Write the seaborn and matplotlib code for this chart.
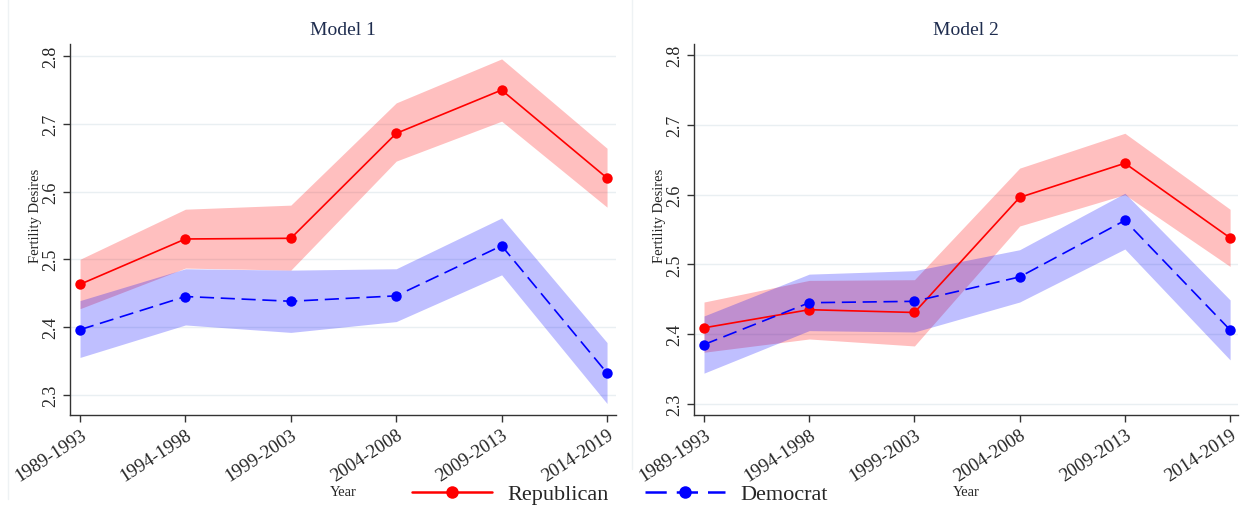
import matplotlib
matplotlib.use("Agg")
import matplotlib.pyplot as plt
from matplotlib.lines import Line2D
import numpy as np
import pandas as pd
import seaborn as sns

# Survey periods
periods = ["1989-1993", "1994-1998", "1999-2003", "2004-2008", "2009-2013", "2014-2019"]

# Model 1: predicted fertility desires with 95% CI
rep1 = [2.463, 2.530, 2.531, 2.686, 2.750, 2.620]
rep1_lo = [2.427, 2.487, 2.484, 2.645, 2.704, 2.577]
rep1_hi = [2.500, 2.574, 2.580, 2.731, 2.796, 2.664]
dem1 = [2.396, 2.445, 2.438, 2.446, 2.520, 2.332]
dem1_lo = [2.355, 2.403, 2.392, 2.408, 2.477, 2.287]
dem1_hi = [2.439, 2.486, 2.484, 2.486, 2.561, 2.377]

# Model 2: predicted fertility desires with 95% CI
rep2 = [2.409, 2.435, 2.431, 2.596, 2.645, 2.538]
rep2_lo = [2.374, 2.393, 2.383, 2.555, 2.600, 2.497]
rep2_hi = [2.446, 2.477, 2.478, 2.638, 2.688, 2.579]
dem2 = [2.385, 2.445, 2.447, 2.482, 2.563, 2.406]
dem2_lo = [2.344, 2.405, 2.403, 2.446, 2.522, 2.363]
dem2_hi = [2.426, 2.486, 2.491, 2.521, 2.602, 2.449]

yticks = [2.3, 2.4, 2.5, 2.6, 2.7, 2.8]

sns.set_theme(style="white")
plt.rcParams["font.family"] = ["Liberation Serif", "DejaVu Serif"]

RED = "#ff0000"
BLUE = "#0000ff"
palette = {"Republican": RED, "Democrat": BLUE}
markers = {"Republican": "o", "Democrat": "o"}
dashes = {"Republican": "", "Democrat": (8.5, 4)}

fig = plt.figure(figsize=(12.43, 5.10), dpi=100)
W, H = 1243, 510


def px_axes(x0, x1, y0, y1):
    return fig.add_axes([x0 / W, 1 - y1 / H, (x1 - x0) / W, (y1 - y0) / H])


# faint outlines of the two sub-graphs
fig.add_artist(Line2D([8 / W, 8 / W], [1 - 500 / H, 1], color="#eef2f4", lw=1))
fig.add_artist(Line2D([632 / W, 632 / W], [1 - 470 / H, 1], color="#eef2f4", lw=1))

panels = [
    dict(title="Model 1", box=(70, 616, 45, 416), ylim=(2.270, 2.818),
         rep=rep1, rep_lo=rep1_lo, rep_hi=rep1_hi,
         dem=dem1, dem_lo=dem1_lo, dem_hi=dem1_hi, xr=5.085),
    dict(title="Model 2", box=(694, 1238, 45, 416), ylim=(2.284, 2.816),
         rep=rep2, rep_lo=rep2_lo, rep_hi=rep2_hi,
         dem=dem2, dem_lo=dem2_lo, dem_hi=dem2_hi, xr=5.075),
]

handles = labels = None
for p in panels:
    ax = px_axes(*p["box"])
    xpos = np.arange(len(periods))
    ax.fill_between(xpos, p["rep_lo"], p["rep_hi"], color=RED, alpha=0.25, lw=0, zorder=1)
    ax.fill_between(xpos, p["dem_lo"], p["dem_hi"], color=BLUE, alpha=0.25, lw=0, zorder=1)

    df = pd.concat([
        pd.DataFrame({"period": periods, "value": p["rep"], "party": "Republican"}),
        pd.DataFrame({"period": periods, "value": p["dem"], "party": "Democrat"}),
    ], ignore_index=True)
    sns.lineplot(data=df, x="period", y="value", hue="party", style="party",
                 palette=palette, markers=markers, dashes=dashes,
                 hue_order=["Republican", "Democrat"], style_order=["Republican", "Democrat"],
                 linewidth=1.2, markersize=7.5, markeredgewidth=0, sort=False, ax=ax, zorder=3)
    handles, labels = ax.get_legend_handles_labels()
    ax.get_legend().remove()

    ax.set_xlim(-0.095, p["xr"])
    ax.set_ylim(*p["ylim"])
    ax.set_yticks(yticks)
    ax.set_yticklabels([f"{v:.1f}" for v in yticks], rotation=90, va="center", fontsize=13)
    ax.set_xticks(xpos)
    ax.set_xticklabels(periods, rotation=33, ha="right", rotation_mode="anchor", fontsize=13.5)
    ax.grid(axis="y", color="#e9eff2", lw=1)
    ax.grid(axis="x", visible=False)
    for s in ["top", "right"]:
        ax.spines[s].set_visible(False)
    for s in ["left", "bottom"]:
        ax.spines[s].set_color("#333333")
        ax.spines[s].set_linewidth(1.0)
    ax.tick_params(axis="both", which="both", direction="out", length=5, width=1,
                   color="#333333", left=True, bottom=True, pad=3)
    ax.set_ylabel("Fertility Desires", fontsize=10.5)
    ax.yaxis.set_label_coords(-0.051, 0.54)
    ax.set_xlabel("Year", fontsize=10.5)
    ax.xaxis.set_label_coords(0.5, -0.19)
    ax.set_title(p["title"], fontsize=14, color="#1f2d4f", pad=7)

leg = fig.legend(handles, labels, loc="center", bbox_to_anchor=(620 / W, 1 - 495 / H),
                 ncol=2, frameon=False, fontsize=16, handlelength=3.6,
                 handletextpad=0.7, columnspacing=1.6)
for h in leg.legend_handles:
    h.set_linewidth(1.8)
    h.set_markersize(9)

fig.savefig("out.png", dpi=100, facecolor="white")
